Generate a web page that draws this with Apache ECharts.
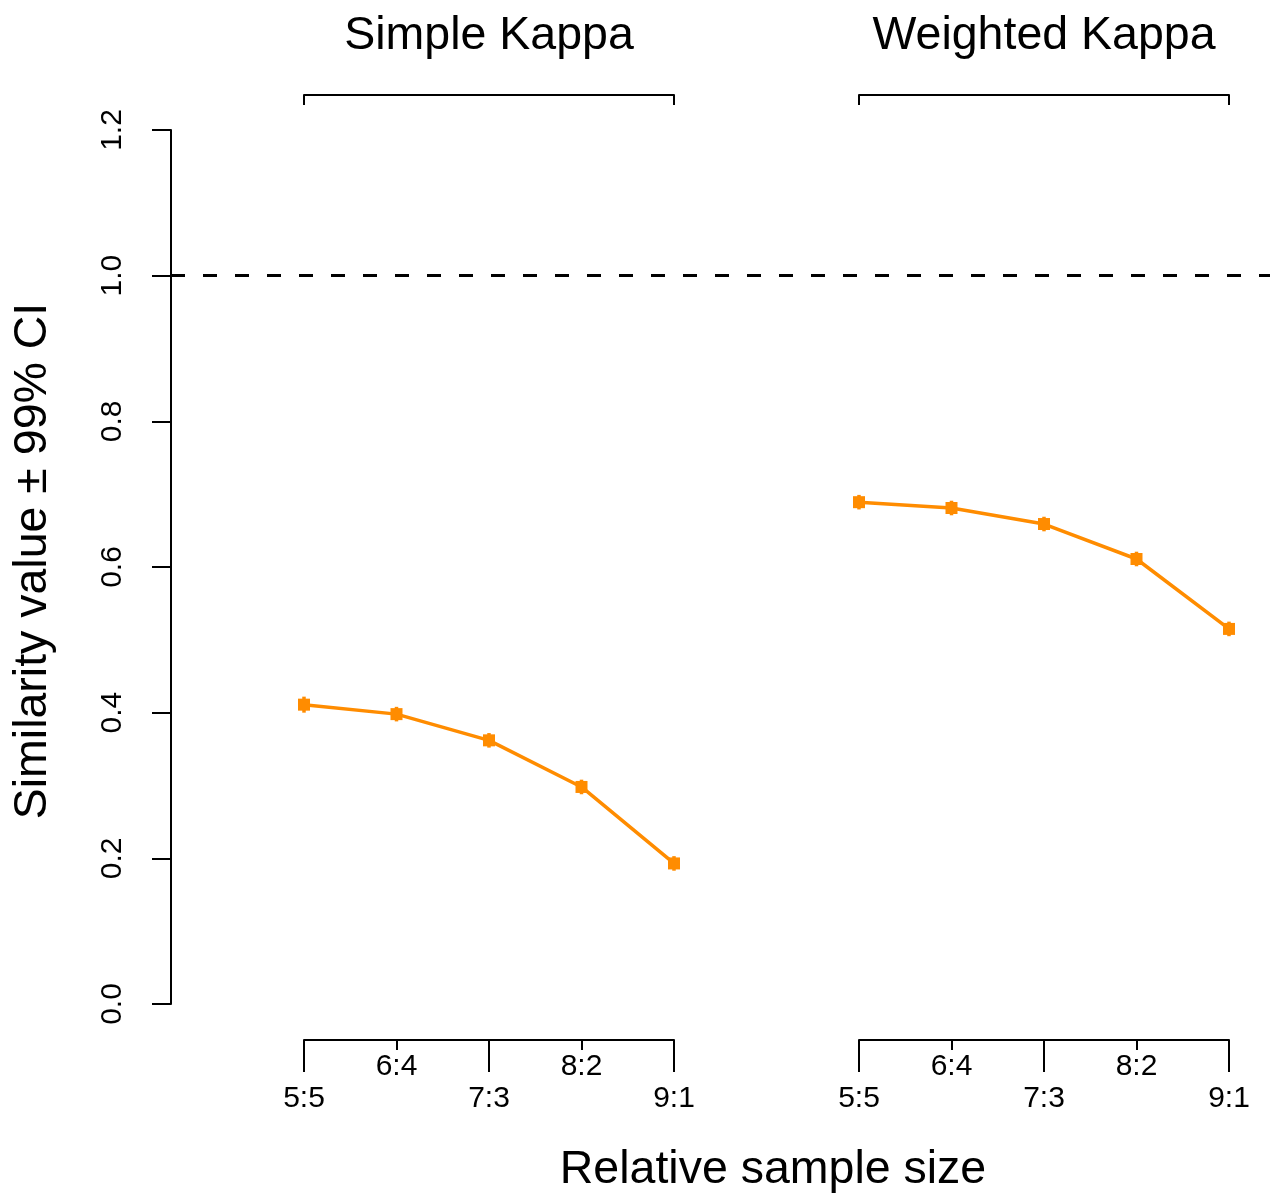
<!DOCTYPE html>
<html>
<head>
<meta charset="utf-8">
<script src="https://cdn.jsdelivr.net/npm/echarts@6/dist/echarts.min.js"></script>
<style>
  html, body { margin: 0; padding: 0; background: #fff; }
  #chart { width: 1277px; height: 1199px; }
</style>
</head>
<body>
<div id="chart"></div>
<script>
// relative sample sizes (x categories)
var categories = ['5:5', '6:4', '7:3', '8:2', '9:1'];
var groupNames = ['Simple Kappa', 'Weighted Kappa'];
// similarity values
var simpleKappa = [0.411, 0.398, 0.362, 0.298, 0.193];
var weightedKappa = [0.689, 0.681, 0.659, 0.611, 0.515];
// half width of 99% CI
var simpleCI = [0.011, 0.010, 0.010, 0.010, 0.010];
var weightedCI = [0.010, 0.010, 0.010, 0.010, 0.010];
var refLine = 1.0;

var FONT = 'Liberation Sans, Arial, sans-serif';
var ORANGE = '#ff8c00';

var myChart = echarts.init(document.getElementById('chart'));

// group offset on the main x scale (one empty slot between groups)
var groupStart = [0, categories.length + 1];
var groupVals = [simpleKappa, weightedKappa];
var groupCI = [simpleCI, weightedCI];

// layout of the main plot
var unit = 92.5;          // px per category step
var x0 = 304;             // px of first category
var plotLeft = 171, plotRight = 1270;
var xMin = (plotLeft - x0) / unit;
var xMax = (plotRight - x0) / unit;

var grids = [{ left: plotLeft, top: 130, width: plotRight - plotLeft, height: 874 }];
var xAxes = [{
  gridIndex: 0, type: 'value', min: xMin, max: xMax, show: false
}];
var yAxes = [{
  gridIndex: 0, type: 'value', min: 0, max: 1.2, interval: 0.2,
  axisLine: { show: true, onZero: false, lineStyle: { color: '#000', width: 2 } },
  axisTick: { show: true, length: 19, lineStyle: { color: '#000', width: 2 } },
  splitLine: { show: false },
  axisLabel: {
    rotate: 90, margin: 43, fontSize: 30, fontFamily: FONT, color: '#000',
    formatter: function (v) { return v.toFixed(1); }
  },
  name: 'Similarity value \u00b1 99% CI',
  nameLocation: 'middle', nameGap: 114,
  nameTextStyle: { fontSize: 46.5, fontFamily: FONT, color: '#000', padding: [0, 0, 0, 12] }
}];

var series = [];

groupNames.forEach(function (gname, g) {
  var left = x0 + groupStart[g] * unit;
  var width = (categories.length - 1) * unit;
  // top bracket with group title
  var gi = grids.length;
  grids.push({ left: left, top: 95, width: width, height: 20 });
  xAxes.push({
    gridIndex: gi, type: 'category', data: categories, boundaryGap: false, position: 'top',
    axisLine: { show: true, onZero: false, lineStyle: { color: '#000', width: 2 } },
    axisTick: { show: true, inside: true, length: 10, lineStyle: { color: '#000', width: 2 },
      interval: function (i) { return i === 0 || i === categories.length - 1; } },
    axisLabel: { show: false },
    name: gname, nameLocation: 'middle', nameGap: 35,
    nameTextStyle: { fontSize: 46.5, fontFamily: FONT, color: '#000' }
  });
  yAxes.push({ gridIndex: gi, show: false });

  // bottom axis: long ticks + lower labels
  gi = grids.length;
  grids.push({ left: left, top: 1000, width: width, height: 40 });
  xAxes.push({
    gridIndex: gi, type: 'category', data: categories, boundaryGap: false, position: 'bottom',
    axisLine: { show: true, onZero: false, lineStyle: { color: '#000', width: 2 } },
    axisTick: { show: true, length: 32, lineStyle: { color: '#000', width: 2 },
      interval: function (i) { return i % 2 === 0; } },
    axisLabel: { show: true, margin: 44, fontSize: 30, fontFamily: FONT, color: '#000',
      interval: function (i) { return i % 2 === 0; } }
  });
  yAxes.push({ gridIndex: gi, show: false });

  // bottom axis: short ticks + upper labels
  gi = grids.length;
  grids.push({ left: left, top: 1000, width: width, height: 40 });
  xAxes.push({
    gridIndex: gi, type: 'category', data: categories, boundaryGap: false, position: 'bottom',
    axisLine: { show: false, onZero: false },
    axisTick: { show: true, length: 10, lineStyle: { color: '#000', width: 2 },
      interval: function (i) { return i % 2 === 1; } },
    axisLabel: { show: true, margin: 12, fontSize: 30, fontFamily: FONT, color: '#000',
      interval: function (i) { return i % 2 === 1; } }
  });
  yAxes.push({ gridIndex: gi, show: false });

  var pts = groupVals[g].map(function (v, i) { return [groupStart[g] + i, v]; });
  var bars = groupVals[g].map(function (v, i) {
    return [groupStart[g] + i, v - groupCI[g][i], v + groupCI[g][i]];
  });

  series.push({
    name: gname, type: 'line', xAxisIndex: 0, yAxisIndex: 0, data: pts,
    symbol: 'rect', symbolSize: [12, 12], showSymbol: true,
    lineStyle: { color: ORANGE, width: 3.5 },
    itemStyle: { color: ORANGE },
    animation: false,
    markLine: g === 0 ? {
      symbol: 'none', silent: true, label: { show: false },
      lineStyle: { color: '#000', width: 3, type: [14, 18] },
      data: [{ yAxis: refLine }]
    } : undefined
  });
  series.push({
    name: gname + ' CI', type: 'custom', xAxisIndex: 0, yAxisIndex: 0, data: bars,
    animation: false,
    renderItem: function (params, api) {
      var lo = api.coord([api.value(0), api.value(1)]);
      var hi = api.coord([api.value(0), api.value(2)]);
      return {
        type: 'line',
        shape: { x1: lo[0], y1: lo[1], x2: hi[0], y2: hi[1] },
        style: { stroke: ORANGE, lineWidth: 3.5 }
      };
    }
  });
});

var option = {
  backgroundColor: '#fff',
  animation: false,
  title: {
    text: 'Relative sample size',
    left: 768, top: 1142, textAlign: 'center',
    textStyle: { fontSize: 46.5, fontWeight: 'normal', fontFamily: FONT, color: '#000' }
  },
  grid: grids,
  xAxis: xAxes,
  yAxis: yAxes,
  series: series
};
myChart.setOption(option);
</script>
</body>
</html>
